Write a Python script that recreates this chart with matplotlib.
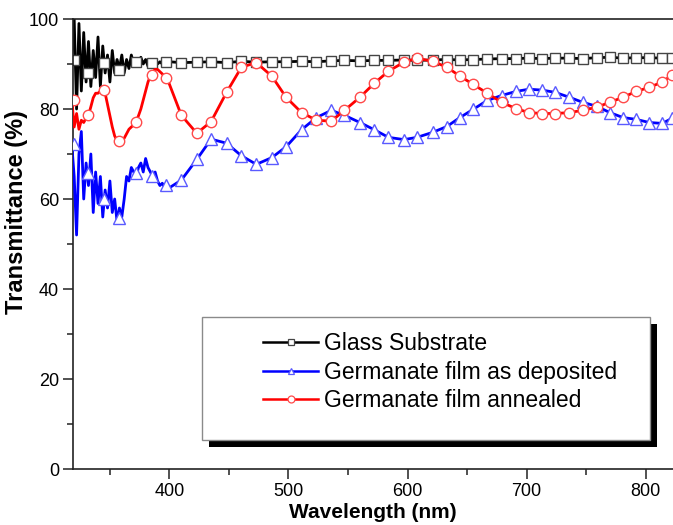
import numpy as np
import matplotlib
matplotlib.use("Agg")
import matplotlib.pyplot as plt
from matplotlib.lines import Line2D
from matplotlib.patches import Rectangle
from matplotlib.ticker import MultipleLocator

plt.rcParams['font.family'] = ['Liberation Sans', 'DejaVu Sans']

# ---------------- data ----------------
# dense (noisy) short-wavelength part
wl_noisy = list(range(318, 401, 2))
T_glass_noisy = [92, 100, 80, 99, 84, 97, 86, 95, 85, 93, 87, 96, 85, 94, 88, 92, 86, 93, 88, 91,
                 89, 92, 88, 91, 89, 92, 90, 91, 89.5, 91.5, 90, 91, 89.5, 90.5, 90, 91, 90, 90.5,
                 90, 90.5, 90.2, 90.5]
T_dep_noisy = [72, 65, 52, 70, 75, 60, 68, 63, 70, 57, 66, 59, 65, 56, 62, 58, 64, 57, 60, 55,
               58, 56, 60, 65, 64, 67, 66, 65, 67, 68, 66, 69, 67, 66, 65, 66, 64, 63, 63.5, 62.5,
               63, 62.5]
T_ann_noisy = [82, 76, 79, 75.5, 77.5, 77, 78, 78.6, 80.5, 82.5, 83.5, 83.5, 84, 84.2, 83.5, 81,
               78.5, 76, 74, 73, 72.5, 72.8, 73.5, 74.5, 75.5, 76, 76.5, 77.2, 78.5, 80, 82, 84,
               86, 87.3, 88.2, 88.8, 88.8, 88.3, 87.8, 87.2, 86.8, 85.5]

# marker positions (sampled data points)
wl_mark = [320, 332, 345, 358, 371.5, 385, 397.5, 410, 423, 435, 448, 460.5, 473, 486, 498, 511,
           523.5, 536, 547, 560, 572, 584, 597, 608, 621, 633, 644, 655, 667, 679, 691, 702, 713,
           724, 736, 747, 759, 770, 781, 792, 803, 814, 822]
T_glass_mark = [91, 88, 90.2, 88.6, 90.4, 90.2, 90.4, 90.3, 90.4, 90.5, 90.3, 90.6, 90.4, 90.5,
                90.5, 90.6, 90.5, 90.7, 90.8, 90.7, 90.8, 90.8, 90.9, 90.8, 90.9, 91.0, 90.9, 91.0,
                91.1, 91.2, 91.2, 91.3, 91.2, 91.3, 91.3, 91.2, 91.4, 91.5, 91.3, 91.4, 91.4, 91.3,
                91.4]
T_dep_mark = [72.3, 65.8, 60, 55.8, 65.8, 65.2, 63.2, 64.2, 68.8, 73.3, 72.4, 69.6, 67.7, 69.2,
              71.6, 75.4, 78.1, 79.7, 78.6, 77, 75.4, 73.7, 73.2, 73.7, 74.8, 76.1, 78.1, 79.9,
              81.9, 83, 83.9, 84.4, 84.2, 83.7, 82.6, 81.5, 80.6, 79.2, 78.1, 77.7, 77, 76.8, 77.9]
T_ann_mark = [82, 78.6, 84.2, 72.8, 77.2, 87.5, 86.8, 78.6, 74.6, 77.2, 83.7, 89.3, 90.3, 87.3,
              82.6, 79.2, 77.5, 77.3, 79.7, 82.6, 85.7, 88.4, 90.4, 91.3, 90.6, 89.3, 87.3, 85.5,
              83.5, 81.5, 80.1, 79.2, 79, 79, 79.2, 79.7, 80.4, 81.5, 82.6, 83.9, 84.8, 86, 87.5]

labels = ["Glass Substrate", "Germanate film as deposited", "Germanate film annealed"]

# ---------------- figure ----------------
W, H = 673, 525
fig = plt.figure(figsize=(W / 100, H / 100), dpi=100)
ax = fig.add_axes([73 / W, 56 / H, 1 - 73 / W, 450 / H])

wl_mark_a = np.array(wl_mark)
tail = wl_mark_a > 401


def line_of(noisy, mark):
    x = np.concatenate([wl_noisy, wl_mark_a[tail]])
    y = np.concatenate([noisy, np.array(mark)[tail]])
    return x, y


styles = [
    dict(color='black', marker='s', mec='#444444', ms=7),
    dict(color='#0000ff', marker='^', mec='#5a5aff', ms=8.5),
    dict(color='#ff0000', marker='o', mec='#ff4a4a', ms=7.5),
]
series = [(T_glass_noisy, T_glass_mark), (T_dep_noisy, T_dep_mark), (T_ann_noisy, T_ann_mark)]

order = [0, 2, 1]
for i in order:
    noisy, mark = series[i]
    st = styles[i]
    x, y = line_of(noisy, mark)
    ax.plot(x, y, color=st['color'], lw=2.0, zorder=2 + i)
    ax.plot(wl_mark, mark, ls='none', marker=st['marker'], ms=st['ms'], mfc='white',
            mec=st['mec'], mew=1.0, zorder=2.5 + i)

ax.set_xlim(319, 823)
ax.set_ylim(0, 100)
ax.xaxis.set_major_locator(MultipleLocator(100))
ax.xaxis.set_minor_locator(MultipleLocator(50))
ax.yaxis.set_major_locator(MultipleLocator(20))
ax.yaxis.set_minor_locator(MultipleLocator(10))
ax.tick_params(which='both', direction='out', top=False, right=False, labelsize=13,
               width=1.1, colors='#222222', labelcolor='black')
ax.tick_params(which='major', length=7, pad=3)
ax.tick_params(which='minor', length=4)
ax.spines['right'].set_visible(False)
for s in ['left', 'bottom', 'top']:
    ax.spines[s].set_linewidth(1.2)
    ax.spines[s].set_color('#222222')

ax.set_xlabel("Wavelength (nm)", fontsize=15, fontweight='bold', labelpad=2)
fig.text(17 / W, 1 - 212 / H, "Transmittance (%)", fontsize=17, fontweight='bold',
         rotation=90, ha='center', va='center')

# legend box with shadow
shadow = Rectangle((209 / W, 1 - 447 / H), 448 / W, 123 / H, transform=fig.transFigure,
                   facecolor='black', edgecolor='none', zorder=10)
box = Rectangle((202 / W, 1 - 440 / H), 448 / W, 123 / H, transform=fig.transFigure,
                facecolor='white', edgecolor='#8a8a8a', lw=1.0, zorder=11)
fig.patches.extend([shadow, box])

handles = [Line2D([], [], color=st['color'], lw=1.8, marker=st['marker'], ms=5, mfc='white',
                  mec=st['mec'], mew=0.9) for st in styles]
leg = fig.legend(handles, labels, loc='upper left', bbox_to_anchor=(263 / W, 1 - 332 / H),
                 frameon=False, fontsize=16.5, handlelength=2.4, handletextpad=0.26,
                 labelspacing=0.25, borderpad=0, borderaxespad=0)
leg.set_zorder(12)

fig.savefig("out.png", dpi=100)
